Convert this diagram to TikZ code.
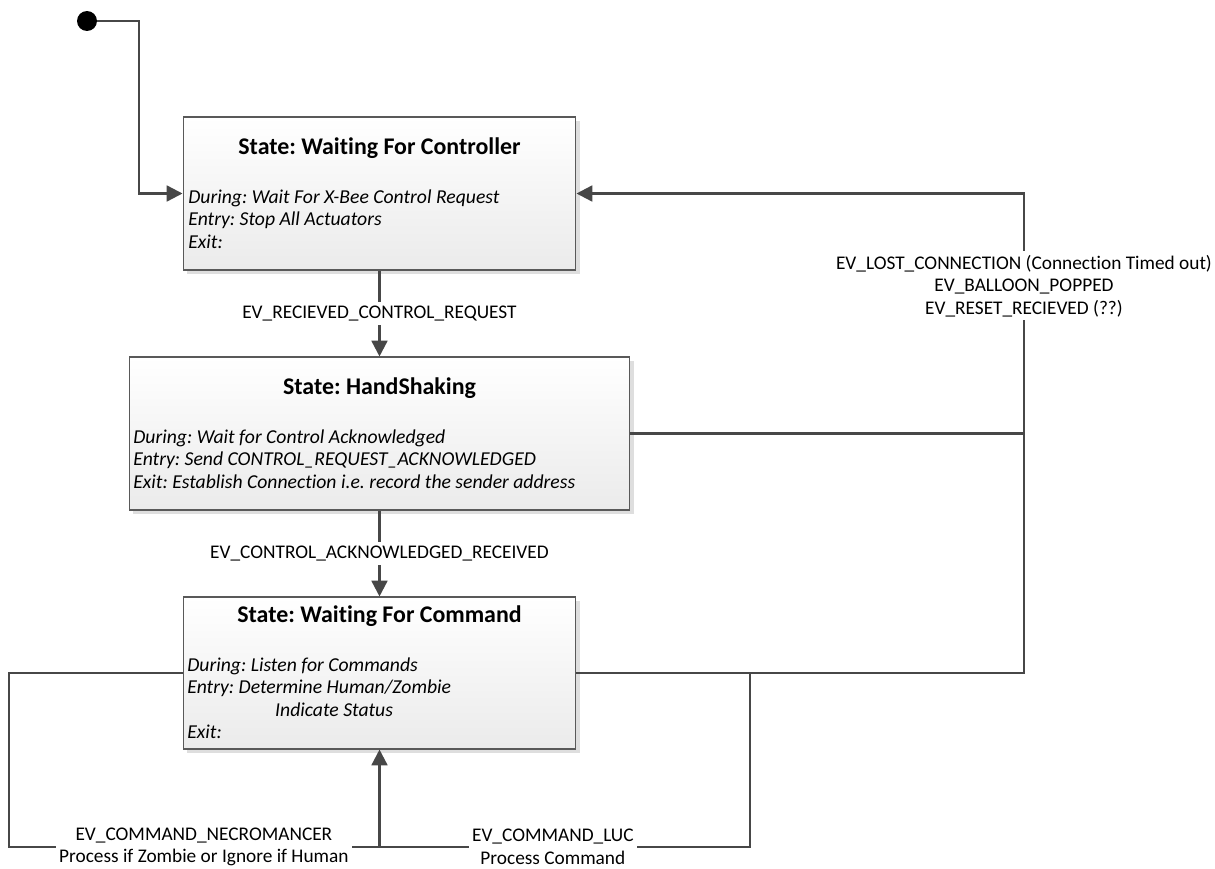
\documentclass[tikz,border=0pt]{standalone}
\usepackage{fontspec}
\setmainfont[Ligatures=NoCommon]{Carlito}
\usetikzlibrary{arrows.meta,shadows}
\frenchspacing
\begin{document}
\begin{tikzpicture}[x=0.02cm,y=-0.02cm,
  line/.style={draw=black!72, line width=1.35pt},
  arr/.style={line, -{Triangle[length=9pt,width=9pt]}},
  state/.style={draw=black!65, line width=0.6pt, top color=white, bottom color=black!8,
    inner sep=0pt,
    drop shadow={shadow xshift=2.2pt, shadow yshift=-2.2pt, fill=black!13, opacity=1}},
  title/.style={font=\bfseries\fontsize{13.6}{16}\selectfont, inner sep=0pt},
  body/.style={font=\itshape\fontsize{11.2}{12.8}\selectfont, align=left, anchor=west, inner sep=0pt},
  lbl/.style={fill=white, font=\fontsize{11}{12.8}\selectfont, align=center, inner sep=2pt}
]
\useasboundingbox (0,0) rectangle (1215,869);

% states
\node[state, minimum width=7.86cm, minimum height=3.06cm] (b1) at (379.5,193.5) {};
\node[state, minimum width=10.02cm, minimum height=3.06cm] (b2) at (379.5,433.5) {};
\node[state, minimum width=7.86cm, minimum height=3.04cm] (b3) at (379.5,673) {};

\node[title] (t1) at (379.5,148) {State: Waiting For Controller};
\node[title] (t2) at (379.5,388) {State: HandShaking};
\node[title] (t3) at (379.5,616) {State: Waiting For Command};

\node[body] (d1) at (188,219) {During: Wait For X-Bee Control Request\\Entry: Stop All Actuators\\Exit:};
\node[body] (d2) at (133,459) {During: Wait for Control Acknowledged\\Entry: Send CONTROL\_REQUEST\_ACKNOWLEDGED\\Exit: Establish Connection i.e. record the sender address};
\node[body] (d3) at (187,698) {During: Listen for Commands\\Entry: Determine Human/Zombie\\\hspace*{50pt}Indicate Status\\Exit:};

% start
\node[circle, fill=black, minimum size=0.4cm, inner sep=0pt] (start) at (87,21) {};

% helper coordinates
\coordinate (s1) at (139,21);
\coordinate (r1) at (1024,193.5);
\coordinate (r2) at (1024,433.5);
\coordinate (r3) at (1024,673);
\coordinate (l1) at (9,673);
\coordinate (l2) at (9,847);
\coordinate (bc) at (379.5,847);
\coordinate (rr1) at (750,673);
\coordinate (rr2) at (750,847);

% connectors
\draw[arr] (start) -- (s1) |- (b1.west);
\draw[arr] (b1) -- node[lbl]{EV\_RECIEVED\_CONTROL\_REQUEST} (b2);
\draw[arr] (b2) -- node[lbl]{EV\_CONTROL\_ACKNOWLEDGED\_RECEIVED} (b3);
\draw[line] (b3.east) -- (r3) -- (r2);
\draw[arr] (b2.east) -- (r2) -- node[lbl, pos=0.615]{EV\_LOST\_CONNECTION (Connection Timed out)\\EV\_BALLOON\_POPPED\\EV\_RESET\_RECIEVED (??)} (r1) -- (b1.east);
\draw[line] (b3.west) -- (l1) -- (l2) -- node[lbl, pos=0.526]{EV\_COMMAND\_NECROMANCER\\Process if Zombie or Ignore if Human} (bc);
\draw[line] (rr1) -- (rr2) -- node[lbl, pos=0.532]{EV\_COMMAND\_LUC\\Process Command} (bc);
\draw[arr] (bc) -- (b3.south);
\end{tikzpicture}
\end{document}
